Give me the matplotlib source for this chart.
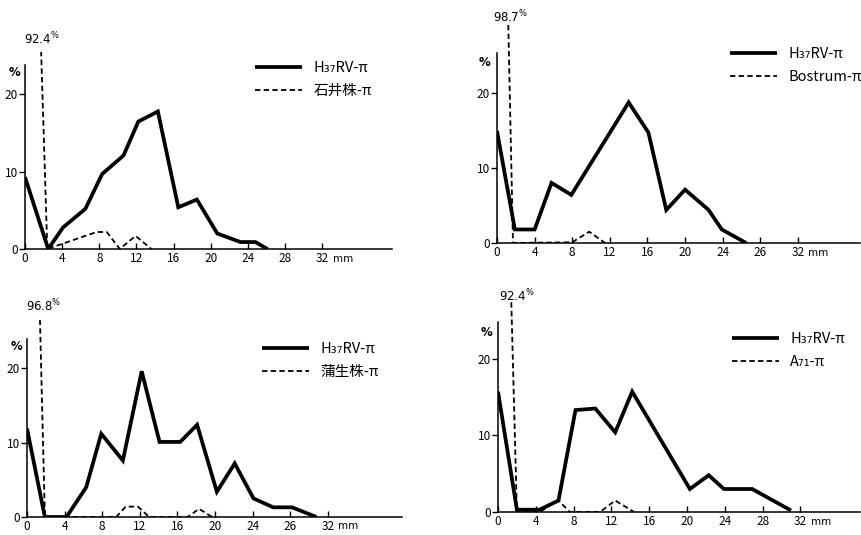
import matplotlib
matplotlib.use("Agg")
import matplotlib.pyplot as plt

plt.rcParams['font.family'] = ['Noto Sans CJK JP', 'DejaVu Sans']

# x in mm, y in %
p1_x = [0, 2.5, 4.1, 6.5, 8.3, 10.6, 12.2, 14.3, 16.5, 18.5, 20.7, 23.2, 24.8, 26.1]
p1_h37 = [9.3, 0, 2.8, 5.2, 9.7, 12.1, 16.5, 17.8, 5.4, 6.4, 2.0, 0.9, 0.9, 0]
p1_dx = [0, 2.4, 7.7, 8.8, 10.2, 11.9, 13.6]
p1_other = [92.4, 0, 2.2, 2.2, 0, 1.7, 0]

p2_x = [0, 1.9, 4.0, 5.8, 7.9, 14.0, 16.1, 18.0, 20.0, 22.5, 23.9, 26.5]
p2_h37 = [14.9, 1.8, 1.8, 8.0, 6.4, 18.7, 14.7, 4.4, 7.1, 4.4, 1.8, 0]
p2_dx = [0, 1.7, 8.0, 9.8, 11.5]
p2_other = [98.7, 0, 0.1, 1.5, 0]

p3_x = [0, 1.9, 4.2, 6.3, 7.9, 10.2, 12.2, 14.1, 16.3, 18.1, 20.2, 22.1, 24.1, 26.2, 28.2, 30.8]
p3_h37 = [11.9, 0, 0, 4.0, 11.2, 7.6, 19.6, 10.1, 10.1, 12.4, 3.4, 7.2, 2.5, 1.3, 1.3, 0]
p3_dx = [0, 1.9, 9.5, 10.5, 11.8, 13.0, 17.1, 18.3, 19.7]
p3_other = [96.8, 0, 0, 1.4, 1.4, 0, 0, 1.1, 0]

p4_x = [0, 2.0, 4.4, 6.4, 8.2, 10.3, 12.4, 14.2, 20.3, 22.3, 23.9, 26.9, 31.0]
p4_h37 = [15.7, 0.3, 0.3, 1.5, 13.3, 13.5, 10.4, 15.7, 3.0, 4.8, 3.0, 3.0, 0.2]
p4_dx = [0, 2.0, 4.4, 6.4, 7.6, 10.8, 12.4, 14.4]
p4_other = [92.4, 0, 0, 1.5, 0, 0, 1.5, 0]

tick_pos = [0, 4, 8, 12, 16, 20, 24, 28, 32]
ticks_a = ['0', '4', '8', '12', '16', '20', '24', '28', '32']
ticks_b = ['0', '4', '8', '12', '16', '20', '24', '26', '32']

solid_label = 'H₃₇RV-π'
other_labels = ['石井株-π', 'Bostrum-π', '蒲生株-π', 'A₇₁-π']
peak_labels = ['92.4', '98.7', '96.8', '92.4']

W, H = 861, 535

# pixel layout: left, right, bottom, top of each plot; legend corner in pixels
panels = [
    dict(box=(25, 392, 249, 52), xmax=39.5, ymax=25.5, ytop=23.8, leg=(255, 61),
         x=p1_x, y=p1_h37, dx=p1_dx, dy=p1_other, ticks=ticks_a,
         peak=(1.8, 27.2), pct=(-1.1, 22.9)),
    dict(box=(497, 860, 243, 25), xmax=38.6, ymax=29.0, ytop=25.3, leg=(730, 47),
         x=p2_x, y=p2_h37, dx=p2_dx, dy=p2_other, ticks=ticks_b,
         peak=(1.4, 30.1), pct=(-1.3, 24.0)),
    dict(box=(27, 402, 517, 320), xmax=39.9, ymax=26.5, ytop=24.0, leg=(262, 342),
         x=p3_x, y=p3_h37, dx=p3_dx, dy=p3_other, ticks=ticks_b,
         peak=(1.8, 28.4), pct=(-1.1, 22.9)),
    dict(box=(498, 860, 512, 302), xmax=38.3, ymax=27.4, ytop=24.8, leg=(732, 332),
         x=p4_x, y=p4_h37, dx=p4_dx, dy=p4_other, ticks=ticks_a,
         peak=(2.0, 28.2), pct=(-1.2, 23.4)),
]

fig = plt.figure(figsize=(W / 100, H / 100), dpi=100)

for i, p in enumerate(panels):
    l, r, b, t = p['box']
    ax = fig.add_axes([l / W, 1 - b / H, (r - l) / W, (b - t) / H])
    ax.set_xlim(0, p['xmax'])
    ax.set_ylim(0, p['ymax'])

    ax.plot(p['x'], p['y'], color='black', lw=2.7, solid_joinstyle='miter',
            solid_capstyle='butt', label=solid_label)
    ax.plot(p['dx'], p['dy'], color='black', lw=1.3, linestyle=(0, (3, 1.8)),
            label=other_labels[i])

    for s in ['top', 'right']:
        ax.spines[s].set_visible(False)
    ax.spines['left'].set_bounds(0, p['ytop'])
    ax.spines['left'].set_linewidth(1.1)
    ax.spines['bottom'].set_linewidth(1.1)

    ax.set_xticks(tick_pos)
    ax.set_xticklabels(p['ticks'])
    ax.set_yticks([0, 10, 20])
    ax.set_yticklabels(['0', '10', '20'])
    ax.tick_params(axis='x', direction='in', length=4, width=1, pad=2, labelsize=8.5)
    ax.tick_params(axis='y', direction='out', length=4, width=1, pad=1, labelsize=8.5)

    ax.text(34.2, -0.6, 'mm', fontsize=7.5, ha='center', va='top', family='DejaVu Sans')
    ax.text(p['pct'][0], p['pct'][1], '%', fontsize=8.5, ha='center', va='center',
            fontweight='bold', family='DejaVu Sans', clip_on=False)
    ax.text(p['peak'][0], p['peak'][1], peak_labels[i] + r'$^{\%}$', fontsize=8.5,
            ha='center', va='center', family='DejaVu Sans', clip_on=False)

    lx, ly = p['leg']
    ax.legend(loc='upper left', bbox_to_anchor=(lx / W, 1 - ly / H),
              bbox_transform=fig.transFigure, frameon=False, fontsize=10.5,
              handlelength=3.2, handletextpad=0.8, labelspacing=0.6, borderpad=0,
              borderaxespad=0)

fig.savefig('out.png', dpi=100, facecolor='white')
